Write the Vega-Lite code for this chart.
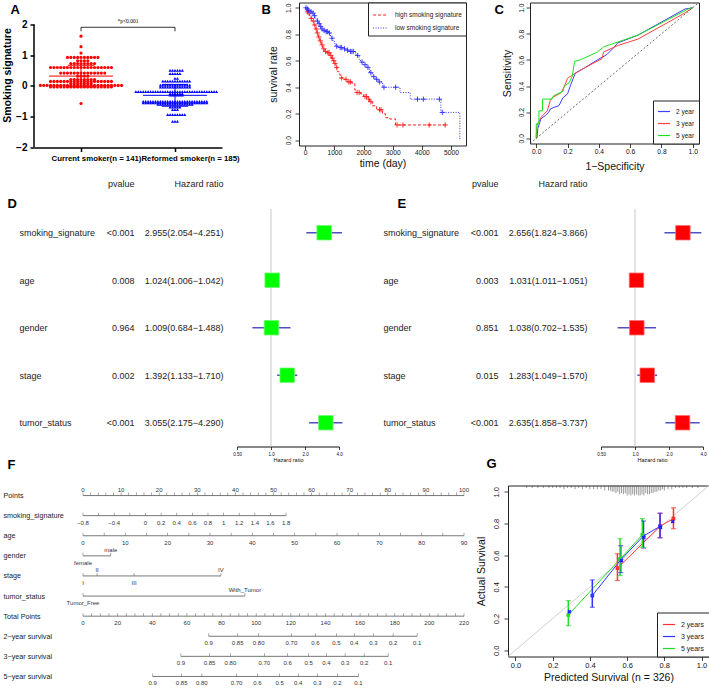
{
"$schema":"https://vega.github.io/schema/vega-lite/v6.json",
"background":"white",
"padding":{"left":2,"top":1.5,"right":0,"bottom":0},
"bounds":"flush",
"spacing":206.5,
"resolve":{"scale":{"color":"independent","shape":"independent","strokeDash":"independent"},"legend":{"color":"independent","strokeDash":"independent","shape":"independent"}},
"config":{
 "font":"Liberation Sans",
 "view":{"stroke":null},
 "axis":{"grid":false,"labelFont":"Liberation Sans","titleFont":"Liberation Sans","labelColor":"#111","titleColor":"#111","tickColor":"#111","domainColor":"#111","titleFontWeight":"normal","labelOverlap":false,"labelBound":false,"labelFlush":false,"tickWidth":0.8,"domainWidth":0.8},
 "legend":{"labelFont":"Liberation Sans"}
},
"vconcat":[
 {"hconcat":[
  {"width":188,"height":145,
   "layer":[
    {"data":{"values":"g,v\nC,1.62\nC,1.28\nC,1.07\nC,0.93\nC,0.93\nC,0.93\nC,0.93\nC,0.93\nC,0.93\nC,0.93\nC,0.93\nC,0.93\nC,0.93\nC,0.82\nC,0.82\nC,0.82\nC,0.82\nC,0.73\nC,0.73\nC,0.73\nC,0.73\nC,0.73\nC,0.73\nC,0.73\nC,0.73\nC,0.6\nC,0.6\nC,0.6\nC,0.6\nC,0.6\nC,0.6\nC,0.6\nC,0.6\nC,0.6\nC,0.6\nC,0.6\nC,0.6\nC,0.6\nC,0.6\nC,0.6\nC,0.6\nC,0.6\nC,0.6\nC,0.6\nC,0.42\nC,0.42\nC,0.42\nC,0.42\nC,0.42\nC,0.42\nC,0.42\nC,0.42\nC,0.42\nC,0.42\nC,0.42\nC,0.42\nC,0.42\nC,0.42\nC,0.32\nC,0.32\nC,0.32\nC,0.32\nC,0.21\nC,0.21\nC,0.21\nC,0.21\nC,0.21\nC,0.21\nC,0.21\nC,0.21\nC,0.15\nC,0.15\nC,0.15\nC,0.15\nC,0.15\nC,0.15\nC,0.15\nC,0.15\nC,0.15\nC,0.15\nC,0.15\nC,0.15\nC,0.15\nC,0.15\nC,0.15\nC,0.15\nC,0.15\nC,0.15\nC,0.15\nC,0.08\nC,0.08\nC,0.08\nC,0.08\nC,0.08\nC,0.08\nC,0.08\nC,0.02\nC,0.02\nC,0.02\nC,0.02\nC,0.02\nC,0.02\nC,0.02\nC,0.02\nC,0.02\nC,0.02\nC,0.02\nC,0.02\nC,0.02\nC,0.02\nC,0.02\nC,0.02\nC,0.02\nC,0.02\nC,0.02\nC,0.02\nC,0.02\nC,0.02\nC,0.02\nC,0.02\nC,0.02\nC,-0.03\nC,-0.03\nC,-0.03\nC,-0.03\nC,-0.03\nC,-0.03\nC,-0.03\nC,-0.03\nC,-0.03\nC,-0.03\nC,-0.03\nC,-0.03\nC,-0.03\nC,-0.03\nC,-0.03\nC,-0.03\nC,-0.03\nC,-0.03\nC,-0.03\nC,-0.57\nR,0.51\nR,0.51\nR,0.51\nR,0.51\nR,0.51\nR,0.51\nR,0.4\nR,0.4\nR,0.4\nR,0.4\nR,0.4\nR,0.25\nR,0.25\nR,0.16\nR,0.16\nR,0.16\nR,0.16\nR,0.16\nR,0.16\nR,0.16\nR,0.16\nR,0.16\nR,0.16\nR,0.16\nR,0.16\nR,0.03\nR,0.03\nR,0.03\nR,0.03\nR,0.03\nR,0.03\nR,0.03\nR,0.03\nR,0.03\nR,0.03\nR,0.03\nR,0.03\nR,0.03\nR,-0.04\nR,-0.04\nR,-0.04\nR,-0.04\nR,-0.04\nR,-0.04\nR,-0.04\nR,-0.04\nR,-0.04\nR,-0.04\nR,-0.04\nR,-0.04\nR,-0.04\nR,-0.18\nR,-0.18\nR,-0.18\nR,-0.18\nR,-0.18\nR,-0.18\nR,-0.18\nR,-0.18\nR,-0.18\nR,-0.18\nR,-0.18\nR,-0.18\nR,-0.18\nR,-0.18\nR,-0.18\nR,-0.18\nR,-0.18\nR,-0.18\nR,-0.18\nR,-0.18\nR,-0.18\nR,-0.18\nR,-0.18\nR,-0.18\nR,-0.18\nR,-0.18\nR,-0.18\nR,-0.18\nR,-0.18\nR,-0.18\nR,-0.18\nR,-0.18\nR,-0.18\nR,-0.18\nR,-0.25\nR,-0.25\nR,-0.25\nR,-0.25\nR,-0.25\nR,-0.25\nR,-0.3\nR,-0.3\nR,-0.3\nR,-0.3\nR,-0.3\nR,-0.3\nR,-0.5\nR,-0.5\nR,-0.5\nR,-0.5\nR,-0.5\nR,-0.5\nR,-0.5\nR,-0.5\nR,-0.5\nR,-0.5\nR,-0.5\nR,-0.5\nR,-0.5\nR,-0.5\nR,-0.5\nR,-0.5\nR,-0.5\nR,-0.5\nR,-0.5\nR,-0.5\nR,-0.5\nR,-0.5\nR,-0.5\nR,-0.5\nR,-0.5\nR,-0.5\nR,-0.5\nR,-0.55\nR,-0.55\nR,-0.55\nR,-0.55\nR,-0.55\nR,-0.55\nR,-0.55\nR,-0.55\nR,-0.55\nR,-0.55\nR,-0.55\nR,-0.55\nR,-0.55\nR,-0.55\nR,-0.55\nR,-0.55\nR,-0.55\nR,-0.55\nR,-0.55\nR,-0.55\nR,-0.55\nR,-0.55\nR,-0.55\nR,-0.55\nR,-0.55\nR,-0.55\nR,-0.55\nR,-0.6\nR,-0.6\nR,-0.6\nR,-0.6\nR,-0.6\nR,-0.6\nR,-0.6\nR,-0.6\nR,-0.6\nR,-0.6\nR,-0.6\nR,-0.6\nR,-0.6\nR,-0.6\nR,-0.6\nR,-0.69\nR,-0.69\nR,-0.69\nR,-0.69\nR,-0.69\nR,-0.77\nR,-0.77\nR,-0.77\nR,-0.93\nR,-0.93\nR,-0.93\nR,-0.93\nR,-0.93\nR,-0.93\nR,-0.93\nR,-0.93\nR,-1.15\nR,-1.15\nR,-1.15","format":{"type":"csv","parse":{"v":"number"}}},
     "transform":[{"calculate":"datum.g=='C'?0:1","as":"gi"}],
     "layer":[
      {"transform":[{"window":[{"op":"row_number","as":"rn"}],"groupby":["g","v"]},{"calculate":"datum.gi+(datum.rn%2==0?1:-1)*floor(datum.rn/2)*(datum.gi==0?0.036:0.026)","as":"xp"}],
       "mark":{"type":"point","filled":true,"size":10,"opacity":1,"strokeWidth":0},
       "encoding":{
        "x":{"field":"xp","type":"quantitative","scale":{"domain":[-0.5,1.5],"nice":false,"zero":false},"axis":{"values":[0,1],"tickCount":50,"labelExpr":"datum.value==0?'Current smoker(n = 141)':'Reformed smoker(n = 185)'","labelOverlap":false,"labelFontSize":7.8,"labelFontWeight":"bold","labelColor":"#000","tickSize":4,"tickWidth":1.5,"domainWidth":1.5,"domainColor":"#000","tickColor":"#000","labelPadding":3,"labelOffset":15,"title":"A","titleFontSize":13,"titleFontWeight":"bold","titleColor":"#000","titleAngle":0,"titleAlign":"left","titleBaseline":"alphabetic","titleX":-24,"titleY":-134}},
        "y":{"field":"v","type":"quantitative","scale":{"domain":[-2,2.715],"nice":false,"zero":false},"axis":{"tickCount":5,"format":"d","labelOverlap":false,"title":"Smoking signature","titleFontSize":10.5,"titleFontWeight":"bold","titleColor":"#000","labelFontSize":10,"labelFontWeight":"bold","labelColor":"#000","tickSize":4,"tickWidth":1.5,"tickColor":"#000","domain":false,"labelPadding":3,"titlePadding":3}},
        "color":{"field":"g","type":"nominal","scale":{"domain":["C","R"],"range":["#ff0000","#0000ff"]},"legend":null},
        "shape":{"field":"g","type":"nominal","scale":{"domain":["C","R"],"range":["circle","triangle-up"]},"legend":null}
       }},
      {"transform":[{"aggregate":[{"op":"mean","field":"v","as":"m"},{"op":"stdev","field":"v","as":"s"}],"groupby":["g","gi"]},
        {"calculate":"datum.m-datum.s","as":"lo"},{"calculate":"datum.m+datum.s","as":"hi"},
        {"calculate":"datum.gi-0.34","as":"ml"},{"calculate":"datum.gi+0.34","as":"mr"},
        {"calculate":"datum.gi-0.14","as":"sl"},{"calculate":"datum.gi+0.14","as":"sr"}],
       "layer":[
        {"mark":{"type":"rule","strokeWidth":1},"encoding":{"x":{"field":"ml","type":"quantitative"},"x2":{"field":"mr"},"y":{"field":"m","type":"quantitative"},"color":{"field":"g","type":"nominal","legend":null}}},
        {"mark":{"type":"rule","strokeWidth":1},"encoding":{"x":{"field":"sl","type":"quantitative"},"x2":{"field":"sr"},"y":{"field":"hi","type":"quantitative"},"color":{"field":"g","type":"nominal","legend":null}}},
        {"mark":{"type":"rule","strokeWidth":1},"encoding":{"x":{"field":"sl","type":"quantitative"},"x2":{"field":"sr"},"y":{"field":"lo","type":"quantitative"},"color":{"field":"g","type":"nominal","legend":null}}},
        {"mark":{"type":"rule","strokeWidth":1},"encoding":{"x":{"field":"gi","type":"quantitative"},"y":{"field":"lo","type":"quantitative"},"y2":{"field":"hi"},"color":{"field":"g","type":"nominal","legend":null}}}
       ]}
     ]},
    {"data":{"values":[{}]},"mark":{"type":"rule","strokeWidth":1.5,"color":"#000"},"encoding":{"x":{"datum":-0.5,"type":"quantitative"},"y":{"datum":-2,"type":"quantitative"},"y2":{"datum":2}}},
    {"data":{"values":[{}]},"mark":{"type":"rule","strokeWidth":0.8,"color":"#000"},"encoding":{"x":{"datum":0,"type":"quantitative"},"x2":{"datum":1},"y":{"datum":1.91,"type":"quantitative"}}},
    {"data":{"values":[{}]},"mark":{"type":"rule","strokeWidth":0.8,"color":"#000"},"encoding":{"x":{"datum":0,"type":"quantitative"},"y":{"datum":1.78,"type":"quantitative"},"y2":{"datum":1.91}}},
    {"data":{"values":[{}]},"mark":{"type":"rule","strokeWidth":0.8,"color":"#000"},"encoding":{"x":{"datum":1,"type":"quantitative"},"y":{"datum":1.78,"type":"quantitative"},"y2":{"datum":1.91}}},
    {"data":{"values":[{}]},"mark":{"type":"text","text":"*p<0.001","font":"Liberation Serif","fontSize":5.5,"color":"#000"},"encoding":{"x":{"datum":0.5,"type":"quantitative"},"y":{"datum":2.11,"type":"quantitative"}}}
   ]},
  {"width":77,"height":1,"data":{"values":[{}]},"mark":{"type":"point","opacity":0,"size":0},"encoding":{"x":{"datum":0,"type":"quantitative","axis":{"orient":"top","labels":false,"ticks":false,"domain":false,"title":"B","titleFontSize":13,"titleFontWeight":"bold","titleColor":"#000","titleAngle":0,"titleAlign":"left","titleBaseline":"alphabetic","titleX":39,"titleY":11}},"y":{"datum":0,"type":"quantitative","axis":null}}},
  {"width":167,"height":143,
    "view":{"stroke":"#222","strokeWidth":1},
    "layer":[
     {"data":{"values":"grp,t,s\nhigh,0,1\nhigh,30,0.98\nhigh,60,0.97\nhigh,100,0.96\nhigh,150,0.94\nhigh,200,0.92\nhigh,250,0.9\nhigh,300,0.87\nhigh,350,0.84\nhigh,400,0.81\nhigh,450,0.78\nhigh,500,0.75\nhigh,550,0.72\nhigh,600,0.69\nhigh,650,0.67\nhigh,750,0.66\nhigh,850,0.64\nhigh,900,0.62\nhigh,950,0.6\nhigh,1000,0.58\nhigh,1050,0.55\nhigh,1100,0.52\nhigh,1150,0.5\nhigh,1200,0.47\nhigh,1300,0.46\nhigh,1450,0.44\nhigh,1600,0.43\nhigh,1700,0.38\nhigh,1750,0.36\nhigh,1900,0.35\nhigh,2000,0.33\nhigh,2150,0.31\nhigh,2200,0.29\nhigh,2300,0.26\nhigh,2450,0.23\nhigh,2650,0.2\nhigh,2750,0.17\nhigh,2900,0.16\nhigh,3100,0.115\nhigh,4800,0.115\nlow,0,1\nlow,50,0.99\nlow,100,0.98\nlow,150,0.97\nlow,250,0.96\nlow,300,0.94\nlow,350,0.92\nlow,400,0.9\nlow,450,0.88\nlow,500,0.86\nlow,550,0.84\nlow,600,0.83\nlow,700,0.82\nlow,800,0.81\nlow,850,0.79\nlow,900,0.77\nlow,950,0.75\nlow,1000,0.73\nlow,1050,0.71\nlow,1150,0.7\nlow,1300,0.69\nlow,1400,0.68\nlow,1500,0.67\nlow,1700,0.66\nlow,1750,0.64\nlow,1850,0.61\nlow,1900,0.59\nlow,2000,0.57\nlow,2100,0.55\nlow,2200,0.51\nlow,2300,0.48\nlow,2400,0.46\nlow,2500,0.44\nlow,2650,0.4\nlow,3250,0.36\nlow,3600,0.31\nlow,4650,0.21\nlow,5300,0","format":{"type":"csv","parse":{"t":"number","s":"number"}}},
      "mark":{"type":"line","interpolate":"step-after","strokeWidth":1},
      "encoding":{
       "x":{"field":"t","type":"quantitative","scale":{"domain":[-212,5512],"nice":false,"zero":false},"axis":{"values":[0,1000,2000,3000,4000,5000],"tickCount":50,"format":"d","labelOverlap":false,"title":"time (day)","titleFontSize":10.5,"labelFontSize":6.7,"tickSize":4,"domain":false,"labelPadding":0,"titlePadding":2.5}},
       "y":{"field":"s","type":"quantitative","scale":{"domain":[-0.04,1.04],"nice":false,"zero":false},"axis":{"values":[0,0.2,0.4,0.6,0.8,1],"tickCount":50,"format":".1f","labelOverlap":false,"title":"survival rate","titleFontSize":10.5,"labelFontSize":6.7,"labelAngle":-90,"labelAlign":"center","labelBaseline":"bottom","tickSize":4,"domain":false,"labelPadding":3.5,"titlePadding":7.5}},
       "color":{"field":"grp","type":"nominal","scale":{"domain":["high","low"],"range":["#ff2020","#3030ff"]},"legend":{"orient":"top-right","offset":0,"title":null,"symbolType":"stroke","symbolSize":220,"symbolStrokeWidth":1.2,"labelFontSize":6.5,"labelColor":"#222","strokeColor":"#222","fillColor":"white","padding":4,"rowPadding":1,"labelOffset":6,"labelExpr":"datum.label + ' smoking signature'"}},
       "strokeDash":{"field":"grp","type":"nominal","scale":{"domain":["high","low"],"range":[[3,2],[1,1.5]]},"legend":{"orient":"top-right","offset":0,"title":null,"symbolType":"stroke","symbolSize":220,"symbolStrokeWidth":1.2,"labelFontSize":6.5,"labelColor":"#222","strokeColor":"#222","fillColor":"white","padding":4,"rowPadding":1,"labelOffset":6,"labelExpr":"datum.label + ' smoking signature'"}}
      }},
     {"data":{"values":"grp,t,s\nhigh,80,0.97\nhigh,130,0.96\nhigh,210,0.92\nhigh,280,0.9\nhigh,330,0.87\nhigh,380,0.84\nhigh,420,0.81\nhigh,470,0.78\nhigh,520,0.75\nhigh,580,0.72\nhigh,640,0.69\nhigh,700,0.67\nhigh,780,0.66\nhigh,820,0.66\nhigh,880,0.64\nhigh,930,0.62\nhigh,980,0.6\nhigh,1020,0.58\nhigh,1080,0.55\nhigh,1250,0.47\nhigh,1400,0.46\nhigh,1500,0.44\nhigh,1550,0.44\nhigh,1780,0.36\nhigh,1850,0.36\nhigh,2050,0.33\nhigh,2100,0.33\nhigh,2180,0.31\nhigh,2250,0.29\nhigh,2550,0.23\nhigh,2600,0.23\nhigh,3150,0.115\nhigh,3350,0.115\nhigh,4250,0.115\nhigh,4800,0.115\nlow,30,1\nlow,80,0.99\nlow,120,0.98\nlow,200,0.97\nlow,270,0.96\nlow,320,0.94\nlow,420,0.9\nlow,480,0.88\nlow,530,0.86\nlow,580,0.84\nlow,650,0.83\nlow,720,0.82\nlow,760,0.82\nlow,830,0.81\nlow,920,0.77\nlow,1080,0.71\nlow,1200,0.7\nlow,1250,0.7\nlow,1350,0.69\nlow,1450,0.68\nlow,1550,0.67\nlow,1600,0.67\nlow,1650,0.67\nlow,1800,0.64\nlow,1950,0.59\nlow,2050,0.57\nlow,2150,0.55\nlow,2250,0.51\nlow,2350,0.48\nlow,2450,0.46\nlow,2550,0.44\nlow,2700,0.4\nlow,3100,0.4\nlow,3850,0.31\nlow,4050,0.31\nlow,4600,0.31\nlow,4700,0.21","format":{"type":"csv","parse":{"t":"number","s":"number"}}},
      "mark":{"type":"point","shape":"M-1,0H1M0,-1V1","size":28,"filled":false,"strokeWidth":0.9,"opacity":1},
      "encoding":{"x":{"field":"t","type":"quantitative"},"y":{"field":"s","type":"quantitative"},"color":{"field":"grp","type":"nominal","legend":null}}}
    ]},
  {"width":64,"height":1,"data":{"values":[{}]},"mark":{"type":"point","opacity":0,"size":0},"encoding":{"x":{"datum":0,"type":"quantitative","axis":{"orient":"top","labels":false,"ticks":false,"domain":false,"title":"C","titleFontSize":13,"titleFontWeight":"bold","titleColor":"#000","titleAngle":0,"titleAlign":"left","titleBaseline":"alphabetic","titleX":28,"titleY":11}},"y":{"datum":0,"type":"quantitative","axis":null}}},
  {"width":169,"height":141,
    "view":{"stroke":"#222","strokeWidth":1},
    "layer":[
     {"data":{"values":"yr,i,x,y\n2 year,0,0,0\n2 year,1,0.005,0.01\n2 year,2,0.01,0.075\n2 year,3,0.03,0.15\n2 year,4,0.06,0.175\n2 year,5,0.08,0.2\n2 year,6,0.09,0.225\n2 year,7,0.12,0.24\n2 year,8,0.145,0.25\n2 year,9,0.17,0.31\n2 year,10,0.2,0.34\n2 year,11,0.22,0.41\n2 year,12,0.25,0.5\n2 year,13,0.31,0.54\n2 year,14,0.39,0.6\n2 year,15,0.45,0.64\n2 year,16,0.5,0.7\n2 year,17,0.52,0.73\n2 year,18,0.65,0.79\n2 year,19,0.95,0.99\n2 year,20,1,1\n3 year,0,0,0\n3 year,1,0,0.025\n3 year,2,0.005,0.1\n3 year,3,0.03,0.16\n3 year,4,0.07,0.21\n3 year,5,0.09,0.29\n3 year,6,0.1,0.31\n3 year,7,0.16,0.35\n3 year,8,0.18,0.4\n3 year,9,0.2,0.46\n3 year,10,0.24,0.49\n3 year,11,0.28,0.52\n3 year,12,0.42,0.61\n3 year,13,0.43,0.66\n3 year,14,0.52,0.71\n3 year,15,0.65,0.76\n3 year,16,0.95,0.96\n3 year,17,1,1\n5 year,0,0,0\n5 year,1,0,0.11\n5 year,2,0.017,0.11\n5 year,3,0.017,0.21\n5 year,4,0.04,0.21\n5 year,5,0.04,0.3\n5 year,6,0.1,0.3\n5 year,7,0.11,0.325\n5 year,8,0.17,0.36\n5 year,9,0.18,0.4\n5 year,10,0.21,0.425\n5 year,11,0.23,0.475\n5 year,12,0.245,0.59\n5 year,13,0.28,0.6\n5 year,14,0.39,0.66\n5 year,15,0.43,0.7\n5 year,16,0.65,0.79\n5 year,17,0.97,0.99\n5 year,18,1,1","format":{"type":"csv","parse":{"i":"number","x":"number","y":"number"}}},
      "mark":{"type":"line","strokeWidth":1},
      "encoding":{
       "x":{"field":"x","type":"quantitative","scale":{"domain":[-0.04,1.04],"nice":false,"zero":false},"axis":{"values":[0,0.2,0.4,0.6,0.8,1],"tickCount":50,"format":".1f","labelOverlap":false,"title":"1−Specificity","titleFontSize":10.5,"labelFontSize":6.7,"tickSize":4,"domain":false,"labelPadding":1.3,"titlePadding":5.5}},
       "y":{"field":"y","type":"quantitative","scale":{"domain":[-0.04,1.04],"nice":false,"zero":false},"axis":{"values":[0,0.2,0.4,0.6,0.8,1],"tickCount":50,"format":".1f","labelOverlap":false,"title":"Sensitivity","titleFontSize":10.5,"labelFontSize":6.7,"labelAngle":-90,"labelAlign":"center","labelBaseline":"bottom","tickSize":4,"domain":false,"labelPadding":1.5,"titlePadding":6}},
       "order":{"field":"i","type":"quantitative"},
       "color":{"field":"yr","type":"nominal","scale":{"domain":["2 year","3 year","5 year"],"range":["#4040ff","#ff4040","#20e020"]},"legend":{"orient":"bottom-right","offset":0,"title":null,"symbolType":"stroke","symbolSize":150,"symbolStrokeWidth":1.2,"labelFontSize":6.5,"labelColor":"#222","strokeColor":"#222","fillColor":"white","padding":4,"rowPadding":1,"labelOffset":5}}}},
     {"data":{"values":[{}]},"mark":{"type":"rule","color":"#444","strokeDash":[2,2],"strokeWidth":0.8},
      "encoding":{"x":{"datum":-0.04,"type":"quantitative"},"y":{"datum":-0.04,"type":"quantitative"},"x2":{"datum":1.04},"y2":{"datum":1.04}}}
    ]}
 ],"spacing":0,"bounds":"flush","resolve":{"scale":{"color":"independent","shape":"independent","strokeDash":"independent"},"legend":{"color":"independent","shape":"independent","strokeDash":"independent"}}},
 {"vconcat":[
  {"hconcat":[
   {"width":203,"height":1,"data":{"values":[{}]},"mark":{"type":"point","opacity":0,"size":0},"encoding":{"x":{"datum":0,"type":"quantitative","axis":null},"y":{"datum":0,"type":"quantitative","axis":null}}},
   {"width":102,"height":237.5,
     "data":{"values":[
      {"var":"smoking_signature","p":"<0.001","hr":"2.955(2.054−4.251)","est":2.955,"lo":2.054,"hi":4.251},
      {"var":"age","p":"0.008","hr":"1.024(1.006−1.042)","est":1.024,"lo":1.006,"hi":1.042},
      {"var":"gender","p":"0.964","hr":"1.009(0.684−1.488)","est":1.009,"lo":0.684,"hi":1.488},
      {"var":"stage","p":"0.002","hr":"1.392(1.133−1.710)","est":1.392,"lo":1.133,"hi":1.71},
      {"var":"tumor_status","p":"<0.001","hr":"3.055(2.175−4.290)","est":3.055,"lo":2.175,"hi":4.29}]},
     "transform":[{"calculate":"datum.var+'|'+datum.p+'|'+datum.hr","as":"key"}],
     "resolve":{"axis":{"y":"independent"}},
     "layer":[
      {"mark":{"type":"rule","color":"#5050c0","strokeWidth":1.5},"encoding":{"x":{"field":"lo","type":"quantitative","scale":{"type":"log","domain":[0.5,4],"nice":false},"axis":{"values":[0.5,1,2,4],"tickCount":50,"labelOverlap":false,"labelExpr":"datum.value==0.5?'0.50':format(datum.value,'.1f')","title":"Hazard ratio","titleFontSize":5.5,"labelFontSize":4.5,"tickSize":3,"labelPadding":2,"titlePadding":1,"domainWidth":1}},"x2":{"field":"hi"},"y":{"field":"key","type":"nominal","sort":null,"scale":{"type":"point","padding":0.5},"axis":{"orient":"left","labelExpr":"split(datum.value,'|')[0]","labelAlign":"left","labelBaseline":"middle","labelPadding":218,"ticks":false,"tickSize":0,"domain":false,"labelFontSize":9,"labelColor":"#222","labelLimit":0,"title":"D","titleFontSize":13,"titleFontWeight":"bold","titleColor":"#000","titleAngle":0,"titleAlign":"left","titleBaseline":"alphabetic","titleX":-230,"titleY":-1.5}}}},
      {"data":{"values":[{}]},"mark":{"type":"rule","color":"#c8c8c8","strokeWidth":1},"encoding":{"x":{"datum":1,"type":"quantitative"}}},
      {"mark":{"type":"square","filled":true,"size":210,"color":"#00ff00","opacity":1},"encoding":{"x":{"field":"est","type":"quantitative"},"y":{"field":"key","type":"nominal","sort":null,"axis":{"orient":"left","labelExpr":"split(datum.value,'|')[1]","labelAlign":"right","labelBaseline":"middle","labelPadding":103,"ticks":false,"tickSize":0,"domain":false,"labelFontSize":9,"labelColor":"#222","labelLimit":0,"title":"pvalue","titleFontSize":9,"titleColor":"#222","titleAngle":0,"titleAlign":"right","titleBaseline":"middle","titleX":-103,"titleY":-25.5}}}},
      {"mark":{"type":"square","filled":false,"size":210,"color":"#70ff70","strokeWidth":0.8,"opacity":1},"encoding":{"x":{"field":"est","type":"quantitative"},"y":{"field":"key","type":"nominal","sort":null,"axis":{"orient":"left","labelExpr":"split(datum.value,'|')[2]","labelAlign":"right","labelBaseline":"middle","labelPadding":14,"ticks":false,"tickSize":0,"domain":false,"labelFontSize":9,"labelColor":"#222","labelLimit":0,"title":"Hazard ratio","titleFontSize":9,"titleColor":"#222","titleAngle":0,"titleAlign":"right","titleBaseline":"middle","titleX":-14,"titleY":-25.5}}}}
     ]},
   {"width":262,"height":1,"data":{"values":[{}]},"mark":{"type":"point","opacity":0,"size":0},"encoding":{"x":{"datum":0,"type":"quantitative","axis":null},"y":{"datum":0,"type":"quantitative","axis":null}}},
   {"width":102,"height":237.5,
     "data":{"values":[
      {"var":"smoking_signature","p":"<0.001","hr":"2.656(1.824−3.866)","est":2.656,"lo":1.824,"hi":3.866},
      {"var":"age","p":"0.003","hr":"1.031(1.011−1.051)","est":1.031,"lo":1.011,"hi":1.051},
      {"var":"gender","p":"0.851","hr":"1.038(0.702−1.535)","est":1.038,"lo":0.702,"hi":1.535},
      {"var":"stage","p":"0.015","hr":"1.283(1.049−1.570)","est":1.283,"lo":1.049,"hi":1.57},
      {"var":"tumor_status","p":"<0.001","hr":"2.635(1.858−3.737)","est":2.635,"lo":1.858,"hi":3.737}]},
     "transform":[{"calculate":"datum.var+'|'+datum.p+'|'+datum.hr","as":"key"}],
     "resolve":{"axis":{"y":"independent"}},
     "layer":[
      {"mark":{"type":"rule","color":"#5050c0","strokeWidth":1.5},"encoding":{"x":{"field":"lo","type":"quantitative","scale":{"type":"log","domain":[0.5,4],"nice":false},"axis":{"values":[0.5,1,2,4],"tickCount":50,"labelOverlap":false,"labelExpr":"datum.value==0.5?'0.50':format(datum.value,'.1f')","title":"Hazard ratio","titleFontSize":5.5,"labelFontSize":4.5,"tickSize":3,"labelPadding":2,"titlePadding":1,"domainWidth":1}},"x2":{"field":"hi"},"y":{"field":"key","type":"nominal","sort":null,"scale":{"type":"point","padding":0.5},"axis":{"orient":"left","labelExpr":"split(datum.value,'|')[0]","labelAlign":"left","labelBaseline":"middle","labelPadding":218,"ticks":false,"tickSize":0,"domain":false,"labelFontSize":9,"labelColor":"#222","labelLimit":0,"title":"E","titleFontSize":13,"titleFontWeight":"bold","titleColor":"#000","titleAngle":0,"titleAlign":"left","titleBaseline":"alphabetic","titleX":-204,"titleY":-1.5}}}},
      {"data":{"values":[{}]},"mark":{"type":"rule","color":"#c8c8c8","strokeWidth":1},"encoding":{"x":{"datum":1,"type":"quantitative"}}},
      {"mark":{"type":"square","filled":true,"size":210,"color":"#ff0000","opacity":1},"encoding":{"x":{"field":"est","type":"quantitative"},"y":{"field":"key","type":"nominal","sort":null,"axis":{"orient":"left","labelExpr":"split(datum.value,'|')[1]","labelAlign":"right","labelBaseline":"middle","labelPadding":103,"ticks":false,"tickSize":0,"domain":false,"labelFontSize":9,"labelColor":"#222","labelLimit":0,"title":"pvalue","titleFontSize":9,"titleColor":"#222","titleAngle":0,"titleAlign":"right","titleBaseline":"middle","titleX":-103,"titleY":-25.5}}}},
      {"mark":{"type":"square","filled":false,"size":210,"color":"#ff7070","strokeWidth":0.8,"opacity":1},"encoding":{"x":{"field":"est","type":"quantitative"},"y":{"field":"key","type":"nominal","sort":null,"axis":{"orient":"left","labelExpr":"split(datum.value,'|')[2]","labelAlign":"right","labelBaseline":"middle","labelPadding":14,"ticks":false,"tickSize":0,"domain":false,"labelFontSize":9,"labelColor":"#222","labelLimit":0,"title":"Hazard ratio","titleFontSize":9,"titleColor":"#222","titleAngle":0,"titleAlign":"right","titleBaseline":"middle","titleX":-14,"titleY":-25.5}}}}
     ]}
  ],"spacing":0,"bounds":"flush"},
  {"hconcat":[
   {"width":49,"height":1,"data":{"values":[{}]},"mark":{"type":"point","opacity":0,"size":0},"encoding":{"x":{"datum":0,"type":"quantitative","axis":{"orient":"top","labels":false,"ticks":false,"domain":false,"title":"F","titleFontSize":13,"titleFontWeight":"bold","titleColor":"#000","titleAngle":0,"titleAlign":"left","titleBaseline":"alphabetic","titleX":-27,"titleY":-17}},"y":{"datum":0,"type":"quantitative","axis":null}}},
   {"width":381,"height":201,
     "data":{"values":"row,pos,lab,side\nPoints,0,0,a\nPoints,2,,a\nPoints,4,,a\nPoints,6,,a\nPoints,8,,a\nPoints,10,10,a\nPoints,12,,a\nPoints,14,,a\nPoints,16,,a\nPoints,18,,a\nPoints,20,20,a\nPoints,22,,a\nPoints,24,,a\nPoints,26,,a\nPoints,28,,a\nPoints,30,30,a\nPoints,32,,a\nPoints,34,,a\nPoints,36,,a\nPoints,38,,a\nPoints,40,40,a\nPoints,42,,a\nPoints,44,,a\nPoints,46,,a\nPoints,48,,a\nPoints,50,50,a\nPoints,52,,a\nPoints,54,,a\nPoints,56,,a\nPoints,58,,a\nPoints,60,60,a\nPoints,62,,a\nPoints,64,,a\nPoints,66,,a\nPoints,68,,a\nPoints,70,70,a\nPoints,72,,a\nPoints,74,,a\nPoints,76,,a\nPoints,78,,a\nPoints,80,80,a\nPoints,82,,a\nPoints,84,,a\nPoints,86,,a\nPoints,88,,a\nPoints,90,90,a\nPoints,92,,a\nPoints,94,,a\nPoints,96,,a\nPoints,98,,a\nPoints,100,100,a\nsmoking_signature,0,−0.8,b\nsmoking_signature,4.1,,b\nsmoking_signature,8.2,−0.4,b\nsmoking_signature,12.3,,b\nsmoking_signature,16.4,0,b\nsmoking_signature,20.5,0.2,b\nsmoking_signature,24.6,0.4,b\nsmoking_signature,28.7,0.6,b\nsmoking_signature,32.8,0.8,b\nsmoking_signature,36.9,1,b\nsmoking_signature,41,1.2,b\nsmoking_signature,45.1,1.4,b\nsmoking_signature,49.2,1.6,b\nsmoking_signature,53.3,1.8,b\nage,0,0,b\nage,5.56,,b\nage,11.11,10,b\nage,16.67,,b\nage,22.22,20,b\nage,27.78,,b\nage,33.33,30,b\nage,38.89,,b\nage,44.44,40,b\nage,50,,b\nage,55.56,50,b\nage,61.11,,b\nage,66.67,60,b\nage,72.22,,b\nage,77.78,70,b\nage,83.33,,b\nage,88.89,80,b\nage,94.44,,b\nage,100,90,b\ngender,0,female,b\ngender,7.3,male,a\nstage,0,I,b\nstage,3.7,II,a\nstage,13.4,III,b\nstage,36.2,IV,a\ntumor_status,0,Tumor_Free,b\ntumor_status,42.5,With_Tumor,a\nTotal Points,0,0,b\nTotal Points,2.27,,b\nTotal Points,4.55,,b\nTotal Points,6.82,,b\nTotal Points,9.09,20,b\nTotal Points,11.36,,b\nTotal Points,13.64,,b\nTotal Points,15.91,,b\nTotal Points,18.18,40,b\nTotal Points,20.45,,b\nTotal Points,22.73,,b\nTotal Points,25,,b\nTotal Points,27.27,60,b\nTotal Points,29.55,,b\nTotal Points,31.82,,b\nTotal Points,34.09,,b\nTotal Points,36.36,80,b\nTotal Points,38.64,,b\nTotal Points,40.91,,b\nTotal Points,43.18,,b\nTotal Points,45.45,100,b\nTotal Points,47.73,,b\nTotal Points,50,,b\nTotal Points,52.27,,b\nTotal Points,54.55,120,b\nTotal Points,56.82,,b\nTotal Points,59.09,,b\nTotal Points,61.36,,b\nTotal Points,63.64,140,b\nTotal Points,65.91,,b\nTotal Points,68.18,,b\nTotal Points,70.45,,b\nTotal Points,72.73,160,b\nTotal Points,75,,b\nTotal Points,77.27,,b\nTotal Points,79.55,,b\nTotal Points,81.82,180,b\nTotal Points,84.09,,b\nTotal Points,86.36,,b\nTotal Points,88.64,,b\nTotal Points,90.91,200,b\nTotal Points,93.18,,b\nTotal Points,95.45,,b\nTotal Points,97.73,,b\nTotal Points,100,220,b\n2−year survival,33,0.9,b\n2−year survival,40.6,0.85,b\n2−year survival,46.1,0.80,b\n2−year survival,54.7,0.70,b\n2−year survival,61,0.6,b\n2−year survival,66.5,0.5,b\n2−year survival,71.2,0.4,b\n2−year survival,76.2,0.3,b\n2−year survival,81.4,0.2,b\n2−year survival,87.7,0.1,b\n3−year survival,25.7,0.9,b\n3−year survival,33.2,0.85,b\n3−year survival,38.7,0.80,b\n3−year survival,47.6,0.70,b\n3−year survival,53.7,0.6,b\n3−year survival,59.2,0.5,b\n3−year survival,63.9,0.4,b\n3−year survival,68.8,0.3,b\n3−year survival,73.8,0.2,b\n3−year survival,80.1,0.1,b\n5−year survival,18.3,0.9,b\n5−year survival,25.9,0.85,b\n5−year survival,31.2,0.80,b\n5−year survival,40.3,0.70,b\n5−year survival,45.8,0.6,b\n5−year survival,51.6,0.5,b\n5−year survival,56.5,0.4,b\n5−year survival,61.5,0.3,b\n5−year survival,66.8,0.2,b\n5−year survival,72.3,0.1,b","format":{"type":"csv","parse":{"pos":"number"}}},
     "layer":[
      {"transform":[{"aggregate":[{"op":"min","field":"pos","as":"mn"},{"op":"max","field":"pos","as":"mx"}],"groupby":["row"]}],
       "mark":{"type":"rule","color":"#555","strokeWidth":0.8},"encoding":{"x":{"field":"mn","type":"quantitative","scale":{"domain":[0,100],"nice":false,"zero":false},"axis":null},"x2":{"field":"mx"},"y":{"field":"row","type":"nominal","sort":["Points","smoking_signature","age","gender","stage","tumor_status","Total Points","2−year survival","3−year survival","5−year survival"],"scale":{"type":"point","padding":0.5},"axis":{"labelAlign":"left","labelBaseline":"middle","labelPadding":80,"ticks":false,"tickSize":0,"domain":false,"title":null,"labelFontSize":7.2,"labelColor":"#222","labelLimit":0}}}},
      {"mark":{"type":"tick","orient":"vertical","size":3,"thickness":0.7,"yOffset":-1.5,"color":"#555"},"encoding":{"x":{"field":"pos","type":"quantitative"},"y":{"field":"row","type":"nominal","sort":["Points","smoking_signature","age","gender","stage","tumor_status","Total Points","2−year survival","3−year survival","5−year survival"]}}},
      {"transform":[{"filter":"datum.side=='a' && isValid(datum.lab) && datum.lab!=''"}],"mark":{"type":"text","fontSize":6,"dy":-6,"color":"#333"},"encoding":{"x":{"field":"pos","type":"quantitative"},"y":{"field":"row","type":"nominal","sort":["Points","smoking_signature","age","gender","stage","tumor_status","Total Points","2−year survival","3−year survival","5−year survival"]},"text":{"field":"lab","type":"nominal"}}},
      {"transform":[{"filter":"datum.side=='b' && isValid(datum.lab) && datum.lab!=''"}],"mark":{"type":"text","fontSize":6,"dy":7,"color":"#333"},"encoding":{"x":{"field":"pos","type":"quantitative"},"y":{"field":"row","type":"nominal","sort":["Points","smoking_signature","age","gender","stage","tumor_status","Total Points","2−year survival","3−year survival","5−year survival"]},"text":{"field":"lab","type":"nominal"}}}
     ]},
   {"width":44,"height":1,"data":{"values":[{}]},"mark":{"type":"point","opacity":0,"size":0},"encoding":{"x":{"datum":0,"type":"quantitative","axis":{"orient":"top","labels":false,"ticks":false,"domain":false,"title":"G","titleFontSize":13,"titleFontWeight":"bold","titleColor":"#000","titleAngle":0,"titleAlign":"left","titleBaseline":"alphabetic","titleX":22,"titleY":-18}},"y":{"datum":0,"type":"quantitative","axis":null}}},
   {"width":201,"height":171,
     "view":{"stroke":"#222","strokeWidth":1},
     "layer":[
      {"data":{"values":"p,f\n0.06,2\n0.09,2\n0.12,2\n0.15,2\n0.18,2\n0.2,2\n0.22,2\n0.24,2\n0.26,3\n0.28,2\n0.3,2\n0.32,3\n0.34,2\n0.36,3\n0.38,2\n0.4,3\n0.42,3\n0.44,3\n0.46,3\n0.48,4\n0.5,4\n0.51,4\n0.52,5\n0.53,5\n0.54,6\n0.55,5\n0.56,7\n0.57,6\n0.58,7\n0.59,6\n0.6,8\n0.61,7\n0.62,8\n0.63,7\n0.64,8\n0.65,7\n0.66,8\n0.67,8\n0.68,7\n0.69,8\n0.7,6\n0.71,7\n0.72,7\n0.73,6\n0.74,6\n0.75,5\n0.76,5\n0.77,4\n0.78,4\n0.79,3\n0.8,4\n0.82,3\n0.84,3\n0.86,2\n0.88,2\n0.9,2\n0.92,2\n0.95,2\n0.98,2","format":{"type":"csv","parse":{"p":"number","f":"number"}}},
       "transform":[{"calculate":"1.04-datum.f*0.0079","as":"bot"},{"calculate":"1.04","as":"top"}],
       "mark":{"type":"rule","color":"#555","strokeWidth":0.6},
       "encoding":{
        "x":{"field":"p","type":"quantitative","scale":{"domain":[-0.04,1.04],"nice":false,"zero":false},"axis":{"values":[0,0.2,0.4,0.6,0.8,1],"tickCount":50,"format":".1f","labelOverlap":false,"title":"Predicted Survival (n = 326)","titleFontSize":10.5,"labelFontSize":7.5,"tickSize":4,"domain":false,"labelPadding":0.5,"titlePadding":3.5}},
        "y":{"field":"bot","type":"quantitative","scale":{"domain":[-0.04,1.04],"nice":false,"zero":false},"axis":{"orient":"left","values":[0,0.2,0.4,0.6,0.8,1],"tickCount":50,"format":".1f","labelOverlap":false,"title":"Actual Survival","titleFontSize":10.5,"labelFontSize":7.5,"labelAngle":-90,"labelAlign":"center","labelBaseline":"bottom","tickSize":4,"domain":false,"labelPadding":4,"titlePadding":5.5}},
        "y2":{"field":"top"}}},
      {"data":{"values":[{}]},"mark":{"type":"rule","color":"#cfcfcf","strokeWidth":1},"encoding":{"x":{"datum":-0.04,"type":"quantitative"},"y":{"datum":-0.04,"type":"quantitative"},"x2":{"datum":1.04},"y2":{"datum":1.04}}},
      {"data":{"values":"yr,p,o,lo,hi\n2 years,0.548,0.518,0.44,0.609\n2 years,0.777,0.782,0.71,0.865\n2 years,0.849,0.831,0.767,0.899\n3 years,0.413,0.345,0.271,0.444\n3 years,0.566,0.571,0.49,0.66\n3 years,0.688,0.721,0.645,0.816\n3 years,0.777,0.782,0.71,0.865\n5 years,0.284,0.222,0.154,0.313\n5 years,0.562,0.575,0.471,0.704\n5 years,0.682,0.729,0.651,0.831","format":{"type":"csv","parse":{"p":"number","o":"number","lo":"number","hi":"number"}}},
       "layer":[
        {"mark":{"type":"line","strokeWidth":1},"encoding":{"x":{"field":"p","type":"quantitative"},"y":{"field":"o","type":"quantitative"},"color":{"field":"yr","type":"nominal","scale":{"domain":["2 years","3 years","5 years"],"range":["#ff3333","#3333ff","#22dd22"]},"legend":{"orient":"bottom-right","offset":0,"title":null,"symbolType":"stroke","symbolSize":150,"symbolStrokeWidth":1.2,"labelFontSize":7,"labelColor":"#222","strokeColor":"#222","fillColor":"white","padding":5,"rowPadding":2,"labelOffset":5}}}},
        {"mark":{"type":"rule","strokeWidth":1.5},"encoding":{"x":{"field":"p","type":"quantitative"},"y":{"field":"lo","type":"quantitative"},"y2":{"field":"hi"},"color":{"field":"yr","type":"nominal","legend":null}}},
        {"mark":{"type":"tick","orient":"horizontal","size":5,"thickness":1.2},"encoding":{"x":{"field":"p","type":"quantitative"},"y":{"field":"lo","type":"quantitative"},"color":{"field":"yr","type":"nominal","legend":null}}},
        {"mark":{"type":"tick","orient":"horizontal","size":5,"thickness":1.2},"encoding":{"x":{"field":"p","type":"quantitative"},"y":{"field":"hi","type":"quantitative"},"color":{"field":"yr","type":"nominal","legend":null}}},
        {"mark":{"type":"square","filled":true,"size":14,"opacity":1},"encoding":{"x":{"field":"p","type":"quantitative"},"y":{"field":"o","type":"quantitative"},"color":{"field":"yr","type":"nominal","legend":null}}}
       ]},
      {"data":{"values":"p,o\n0.29,0.243\n0.57,0.565\n0.69,0.712\n0.78,0.775\n0.845,0.812","format":{"type":"csv","parse":{"p":"number","o":"number"}}},"mark":{"type":"point","shape":"cross","angle":45,"size":16,"filled":true,"color":"#2020ff","opacity":1},"encoding":{"x":{"field":"p","type":"quantitative"},"y":{"field":"o","type":"quantitative"}}}
     ]}
  ],"spacing":0,"bounds":"flush","resolve":{"scale":{"color":"independent"},"legend":{"color":"independent"}}}
 ],"spacing":276.5,"bounds":"flush","resolve":{"scale":{"color":"independent"},"legend":{"color":"independent"}}}
]
}
